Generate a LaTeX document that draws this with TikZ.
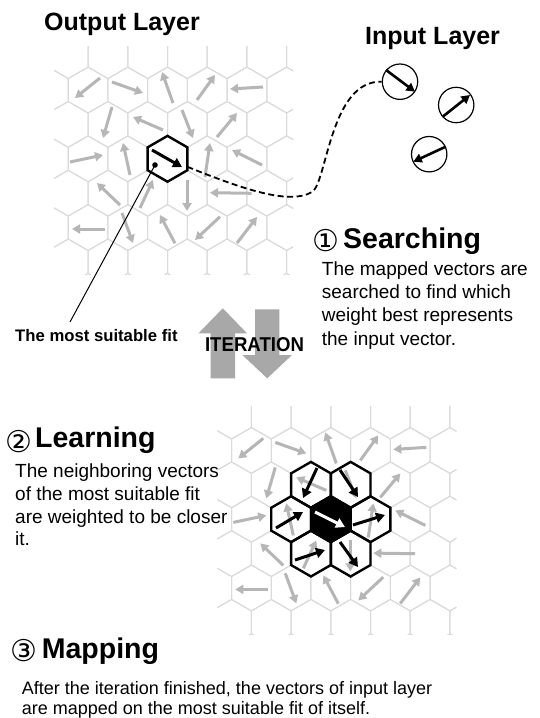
\documentclass[tikz,border=0pt]{standalone}
\usepackage{fontspec}
\setmainfont{Liberation Sans}
\newfontfamily\circfont{DejaVu Sans}
\usetikzlibrary{arrows.meta,shapes.geometric}
\definecolor{gridgray}{HTML}{DADADA}
\definecolor{arrgray}{HTML}{B6B6B6}
\definecolor{itergray}{HTML}{A8A8A8}
\newcommand{\fHead}{\fontsize{25}{30}\selectfont\bfseries}
\newcommand{\fStep}{\fontsize{28.5}{34}\selectfont\bfseries}
\newcommand{\fBody}{\fontsize{19}{23}\selectfont}
\newcommand{\fMapBody}{\fontsize{18}{21}\selectfont}
\newcommand{\fFit}{\fontsize{16.7}{20}\selectfont\bfseries}
\newcommand{\fIter}{\fontsize{20}{24}\selectfont\bfseries}
\newcommand{\fCirc}{\fontsize{30}{34}\selectfont\circfont}
\tikzset{
  gridline/.style={draw=gridgray,line width=1pt},
  garrow/.style={draw=arrgray,line width=3pt,-{Triangle[length=8pt,width=9pt]}},
  barrow/.style={draw=black,line width=3pt,-{Triangle[length=9pt,width=10pt]}},
  warrow/.style={draw=white,line width=3pt,-{Triangle[length=9pt,width=10pt]}},
  carrow/.style={draw=black,line width=2.6pt,-{Triangle[length=8.5pt,width=9pt]}},
  hexcell/.style={regular polygon,regular polygon sides=6,shape border rotate=30,minimum size=45.84pt,inner sep=0pt,outer sep=0pt,draw=black,line width=2.4pt},
  incircle/.style={circle,draw=black,line width=1.2pt,minimum size=35.4pt,inner sep=0pt},
  txt/.style={inner sep=0pt,anchor=base west},
  circnum/.style={inner sep=0pt,anchor=center,font=\fCirc},
  iterarrow/.style={fill=itergray,draw=none}
}
\newcommand{\somgrid}{%
  \begin{scope}
    \clip (-113.5,-112.8) rectangle (125.5,115.5);
    \foreach \j in {-4,...,4}{%
      \foreach \i in {-4,...,4}{%
        \pgfmathsetmacro{\hcx}{\i*39.7+abs(mod(\j,2))*19.85}%
        \pgfmathsetmacro{\hcy}{\j*34.38}%
        \draw[gridline] (\hcx,\hcy) +(30:22.92) -- +(90:22.92) -- +(150:22.92) -- +(210:22.92) -- +(270:22.92) -- +(330:22.92) -- cycle;
      }%
    }%
  \end{scope}
  \foreach \ax/\ay/\bx/\by in {
    -67.5/-80.8/-92.5/-60.8, -55.5/-76.8/-24.5/-65.8, 5.5/-55.8/-5.5/-86.8,
    29.5/-58.8/47.5/-83.8, 95.5/-71.8/62.5/-69.8,
    -55.5/-51.8/-64.5/-20.8, -4.5/-28.8/-34.5/-41.8, 14.5/-48.8/25.5/-20.8,
    49.5/-21.8/69.5/-45.8,
    -97.5/3.2/-64.5/-3.8, -37.5/16.2/-44.5/-15.8, 37.5/18.2/42.5/-15.8,
    94.5/6.2/64.5/-8.8,
    -47.5/46.2/-70.5/24.2, -27.5/49.2/-14.5/21.2, 19.5/21.2/19.5/52.2,
    84.2/34.5/42.5/33.9,
    -62.5/70.2/-95.5/70.2, -45.5/54.2/-34.5/84.2, 7.5/84.5/-7.5/56.2,
    52.5/57.9/27.5/81.2, 69.5/84.2/89.5/58.2}{%
    \draw[garrow] (\ax,\ay) -- (\bx,\by);
  }%
}
\begin{document}
\begin{tikzpicture}[x=1pt,y=-1pt]
\useasboundingbox (0,0) rectangle (539,718);
\fill[white] (0,0) rectangle (539,718);

% ---------- top grid (output layer) ----------
\begin{scope}[shift={(167.5,158.8)}]
  \somgrid
  \node[hexcell] (bmu) at (0,0) {};
  \draw[barrow] (-15.5,-8.8) -- (14.5,8.2);
  \coordinate (dot) at (-12.5,6.2);
\end{scope}
\fill[black] (dot) circle (2.8pt);

% ---------- input layer ----------
\node[incircle] (c1) at (400,81.7) {};
\node[incircle] (c2) at (456.2,105) {};
\node[incircle] (c3) at (429.2,154.2) {};
\draw[carrow] (386,70) -- (415,91.7);
\draw[carrow] (442.7,116.7) -- (470,95);
\draw[carrow] (445.7,146.7) -- (413.3,161.7);

\draw[line width=1.8pt,dash pattern=on 6pt off 3.5pt]
  ([yshift=-8pt]bmu.east) .. controls (245,190) and (290,205) .. (312,192)
  .. controls (327,183) and (330,80) .. (c1.west);

% ---------- labels ----------
\node[txt,font=\fHead] (outlbl) at (44,30) {Output Layer};
\node[txt,font=\fHead] (inlbl) at (365,44.3) {Input Layer};

\node[circnum] (num1) at (326,240.3) {①};
\node[txt,font=\fStep] (srch) at (343,248.3) {Searching};
\node[txt,font=\fBody] (s1) at (321.7,275) {The mapped vectors are};
\node[txt,font=\fBody] (s2) at (321.7,298.3) {searched to find which};
\node[txt,font=\fBody] (s3) at (321.7,321.7) {weight best represents};
\node[txt,font=\fBody] (s4) at (321.7,345) {the input vector.};

\node[txt,font=\fFit] (fitlbl) at (15,341.7) {The most suitable fit};
\coordinate (ptrend) at (70,322);
\draw[line width=1pt] (dot) -- (ptrend);

% ---------- iteration arrows ----------
\fill[iterarrow] (210.5,378.3) -- (210.5,333.3) -- (198.5,333.3) -- (222.75,308.3)
  -- (247,333.3) -- (235,333.3) -- (235,378.3) -- cycle;
\fill[iterarrow] (255,309.3) -- (279.4,309.3) -- (279.4,355) -- (292,355) -- (267.2,378.3)
  -- (242.4,355) -- (255,355) -- cycle;
\node[inner sep=0pt,anchor=base,font=\fIter] (iter) at (254.5,351.7) {\scalebox{0.93}[1]{ITERATION}};

% ---------- learning ----------
\node[circnum] (num2) at (19.2,441.7) {②};
\node[txt,font=\fStep] (lrn) at (35,447.3) {Learning};
\node[txt,font=\fBody] (l1) at (15,477.3) {The neighboring vectors};
\node[txt,font=\fBody] (l2) at (15,500) {of the most suitable fit};
\node[txt,font=\fBody] (l3) at (15,523) {are weighted to be closer};
\node[txt,font=\fBody] (l4) at (15,545.5) {it.};

\begin{scope}[shift={(330.8,519.2)}]
  \somgrid
  \node[hexcell] (nb1) at (-19.85,-34.38) {};
  \node[hexcell] (nb2) at (19.85,-34.38) {};
  \node[hexcell] (nb3) at (-39.7,0) {};
  \node[hexcell] (nb4) at (39.7,0) {};
  \node[hexcell] (nb5) at (-19.85,34.38) {};
  \node[hexcell] (nb6) at (19.85,34.38) {};
  \node[hexcell,fill=black] (win) at (0,0) {};
  \draw[warrow] (-15.8,-7.2) -- (14.2,7.8);
  \draw[barrow] (-13.8,-51.2) -- (-27.8,-21.2);
  \draw[barrow] (9.2,-49.2) -- (27.2,-22.2);
  \draw[barrow] (-54.8,8.8) -- (-27.8,-7.2);
  \draw[barrow] (22.2,5.8) -- (54.2,-4.2);
  \draw[barrow] (-35.8,40.8) -- (-5.8,30.8);
  \draw[barrow] (9.2,22.8) -- (27.2,47.8);
\end{scope}

% ---------- mapping ----------
\node[circnum] (num3) at (24.2,650.5) {③};
\node[txt,font=\fStep] (mapp) at (41.7,658.3) {Mapping};
\node[txt,font=\fMapBody] (m1) at (21.7,694.5) {After the iteration finished, the vectors of input layer};
\node[txt,font=\fMapBody] (m2) at (21.7,714) {are mapped on the most suitable fit of itself.};
\end{tikzpicture}
\end{document}
